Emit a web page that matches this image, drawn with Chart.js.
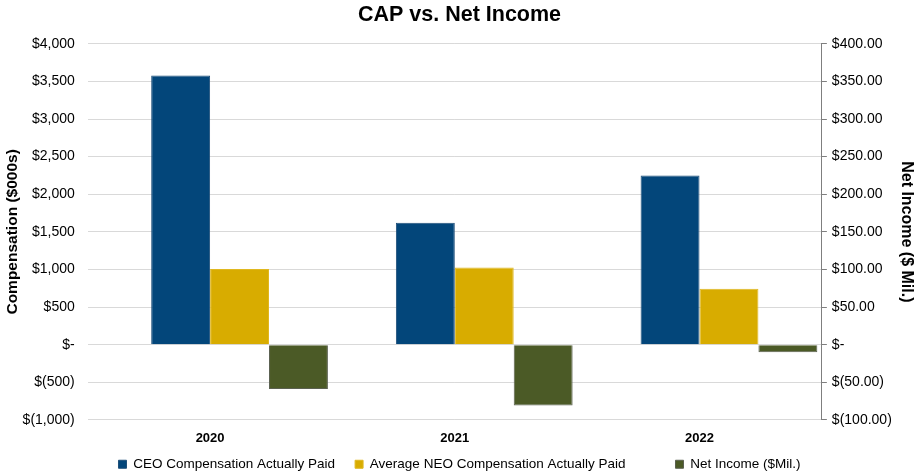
<!DOCTYPE html>
<html>
<head>
  <title>CAP vs. Net Income</title>
  <script src="https://cdn.jsdelivr.net/npm/chart.js"></script>
  <style>
    body { margin: 0; background: #fff; }
  </style>
</head>
<body>
  <canvas id="capChart" width="920" height="474"></canvas>

  <script>
    const years = ['2020', '2021', '2022'];
    const ceoCap = [3580, 1620, 2250];
    const neoCap = [1005, 1025, 745];
    const netIncome = [-59, -81, -10];

    const fontFam = "'Liberation Sans', Arial, sans-serif";
    // extra room after each legend entry (Excel spaces them unevenly)
    const legendGaps = [4, 12, 0];

    function money(v, dec) {
      if (v === 0) return '$-';
      const s = Math.abs(v).toLocaleString('en-US', { minimumFractionDigits: dec, maximumFractionDigits: dec });
      return v < 0 ? '$(' + s + ')' : '$' + s;
    }

    new Chart(document.getElementById('capChart'), {
      type: 'bar',
      data: {
        labels: years,
        datasets: [
          // empty slot so the year label sits between the two compensation bars, as in the original
          { label: '', data: years.map(() => null), yAxisID: 'y' },
          { label: 'CEO Compensation Actually Paid', data: ceoCap, backgroundColor: '#03467a', borderColor: '#1f4f7a', borderWidth: 1, yAxisID: 'y' },
          { label: 'Average NEO Compensation Actually Paid', data: neoCap, backgroundColor: '#d8ac00', borderColor: '#e0b820', borderWidth: 1, yAxisID: 'y' },
          { label: 'Net Income ($Mil.)', data: netIncome, backgroundColor: '#4b5a26', borderColor: '#5b6150', borderWidth: 1, yAxisID: 'y1' }
        ]
      },
      options: {
        responsive: false,
        animation: false,
        devicePixelRatio: 1,
        layout: { padding: { left: 3, right: 4, top: 0, bottom: -7 } },
        datasets: { bar: { categoryPercentage: 0.963, barPercentage: 1 } },
        plugins: {
          title: {
            display: true,
            text: 'CAP vs. Net Income',
            color: '#000',
            font: { family: fontFam, size: 21.5, weight: 'bold' },
            padding: { top: 2, bottom: 16 }
          },
          legend: {
            position: 'bottom',
            padding: 0,
            labels: {
              color: '#000',
              font: { family: fontFam, size: 13.5 },
              boxWidth: 8,
              boxHeight: 8,
              padding: 5,
              generateLabels: chart => Chart.defaults.plugins.legend.labels.generateLabels(chart)
                .filter(item => item.text !== '')
                .map((item, i) => { item.text += ' '.repeat(legendGaps[i]); return item; })
            }
          },
          tooltip: { enabled: false }
        },
        scales: {
          x: {
            afterFit: scale => { scale.height -= 5; },
            grid: { display: false, drawTicks: false },
            border: { display: false },
            ticks: { color: '#000', font: { family: fontFam, size: 13, weight: 'bold' }, padding: 11 }
          },
          y: {
            position: 'left',
            min: -1000,
            max: 4000,
            afterFit: scale => { scale.width -= 12; },
            ticks: {
              stepSize: 500,
              color: '#000',
              font: { family: fontFam, size: 14 },
              padding: 13,
              callback: v => money(v, 0)
            },
            grid: { color: '#d9d9d9', drawTicks: false },
            border: { display: false },
            title: {
              display: true,
              text: 'Compensation ($000s)',
              color: '#000',
              font: { family: fontFam, size: 15.5, weight: 'bold' },
              padding: 0
            }
          },
          y1: {
            position: 'right',
            min: -100,
            max: 400,
            ticks: {
              stepSize: 50,
              color: '#000',
              font: { family: fontFam, size: 14 },
              padding: 5,
              callback: v => money(v, 2)
            },
            grid: { drawOnChartArea: false, color: '#7f7f7f', tickLength: 5 },
            border: { display: true, color: '#7f7f7f' },
            title: {
              display: true,
              text: 'Net Income ($ Mil.)',
              color: '#000',
              font: { family: fontFam, size: 16, weight: 'bold' },
              padding: 0
            }
          }
        }
      }
    });
  </script>
</body>
</html>
